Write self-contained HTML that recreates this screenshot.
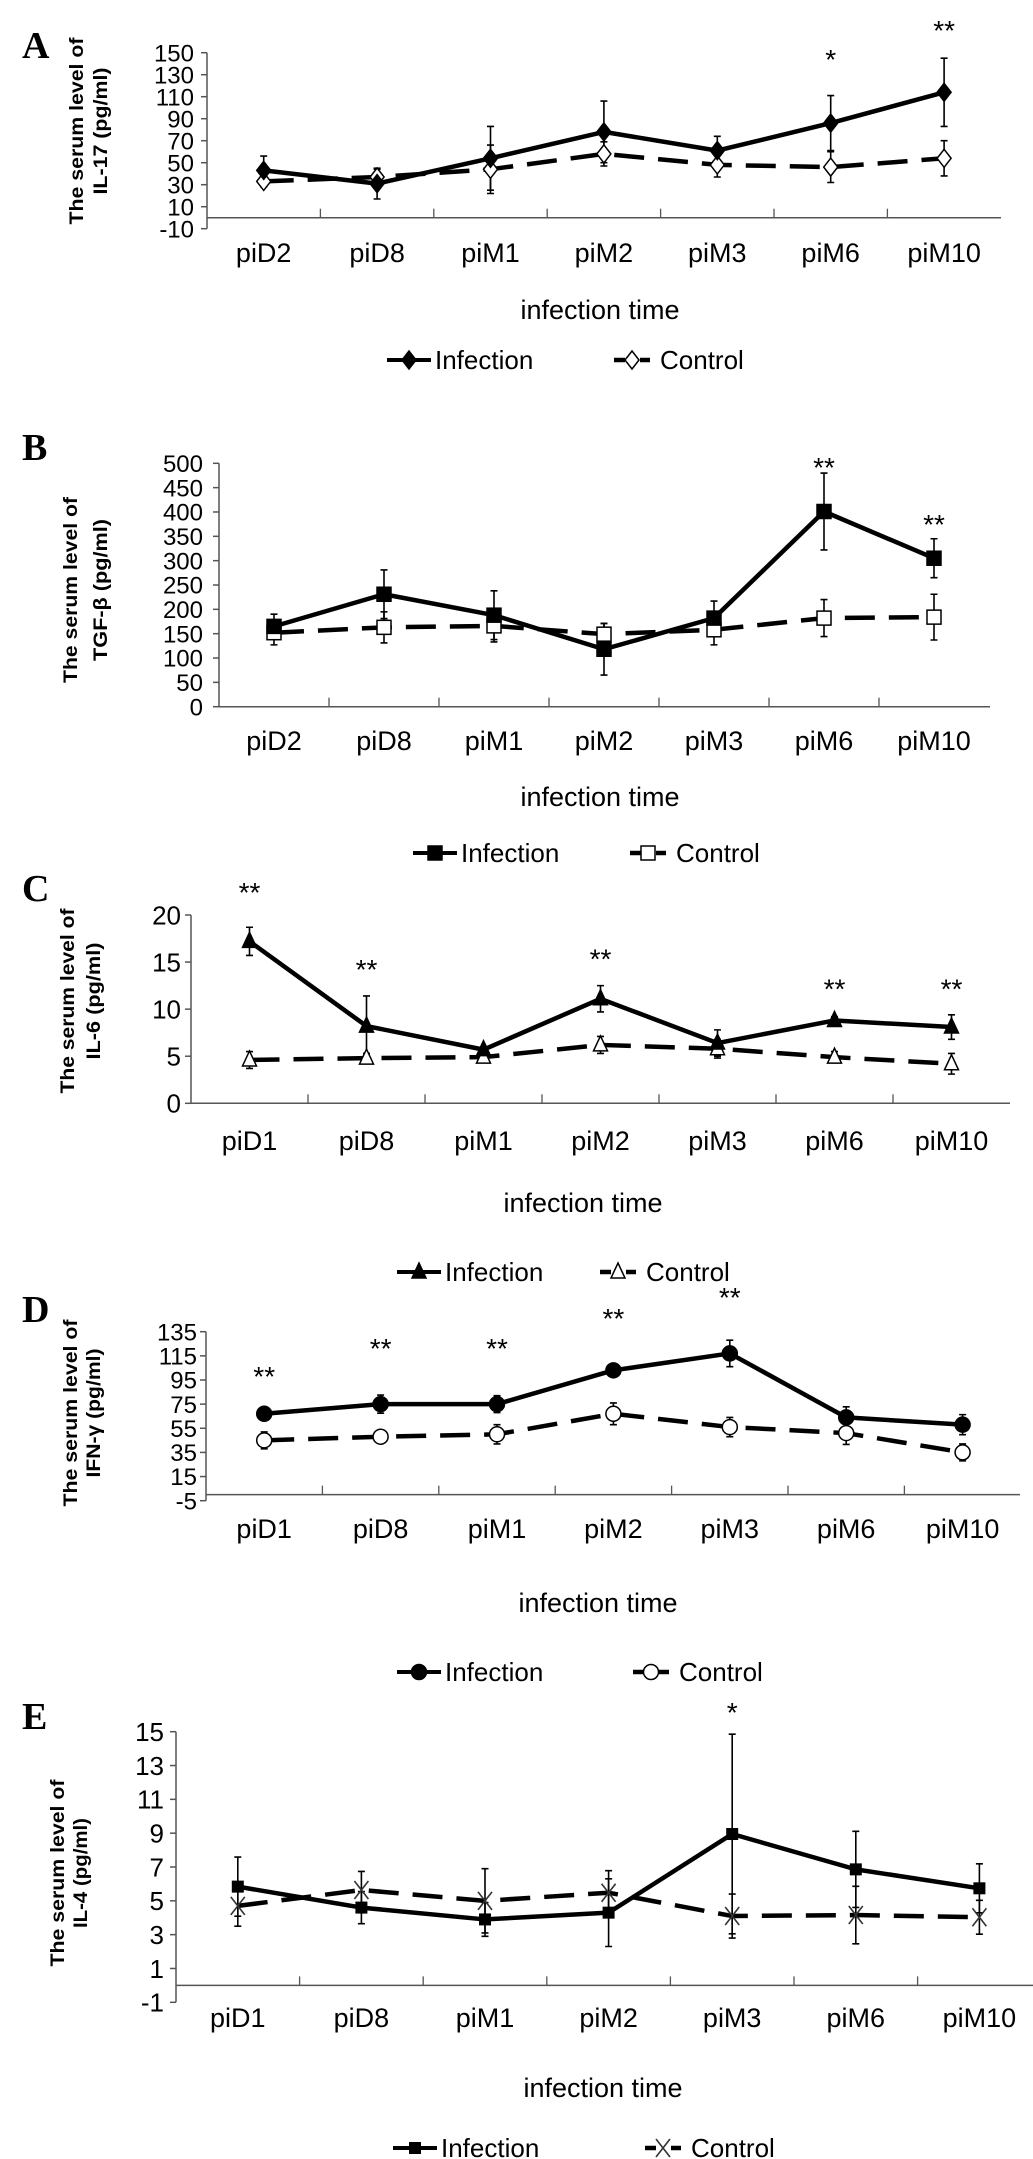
<!DOCTYPE html>
<html>
<head>
<meta charset="utf-8">
<style>
html,body{margin:0;padding:0;background:#fff;}
svg{display:block;font-family:"Liberation Sans",Arial,sans-serif;}
</style>
</head>
<body>
<svg id="fig" width="1033" height="2159" viewBox="0 0 1033 2159" xmlns="http://www.w3.org/2000/svg">
<rect x="0" y="0" width="1033" height="2159" fill="#fff"/>
</svg>
<script>
// ---------- DATA ----------
const catsA = ['piD2','piD8','piM1','piM2','piM3','piM6','piM10'];
const infA = [43,31,54,78,61,86,114];
const errInfA = [13,14,29,28,13,25,31];
const ctlA = [33,37,44,58,48,46,54];
const errCtlA = [5,7,22,11,11,14,16];
const ticksA = [-10,10,30,50,70,90,110,130,150];
const starCatA = [5,6];
const starValA = [149,175];
const starTxtA = ['*','**'];

const catsB = ['piD2','piD8','piM1','piM2','piM3','piM6','piM10'];
const infB = [165,231,188,118,182,401,305];
const errInfB = [25,50,50,53,35,79,40];
const ctlB = [152,163,166,149,158,182,184];
const errCtlB = [25,32,33,22,31,38,47];
const ticksB = [0,50,100,150,200,250,300,350,400,450,500];
const starCatB = [5,6];
const starValB = [503,386];
const starTxtB = ['**','**'];

const catsC = ['piD1','piD8','piM1','piM2','piM3','piM6','piM10'];
const infC = [17.2,8.2,5.7,11.1,6.4,8.8,8.1];
const errInfC = [1.5,3.2,0.3,1.4,1.4,0.4,1.3];
const ctlC = [4.6,4.8,4.9,6.2,5.8,4.9,4.2];
const errCtlC = [0.9,0.5,0.4,0.9,1.0,0.6,1.1];
const ticksC = [0,5,10,15,20];
const starCatC = [0,1,3,5,6];
const starValC = [23.0,14.8,15.9,12.7,12.7];
const starTxtC = ['**','**','**','**','**'];

const catsD = ['piD1','piD8','piM1','piM2','piM3','piM6','piM10'];
const infD = [67,75,75,103,117,64,58];
const errInfD = [3,7.5,7,4,11,8.8,8.3];
const ctlD = [45,48,50,67,56,51,35];
const errCtlD = [7,3,8,9,8,9.4,7];
const ticksD = [-5,15,35,55,75,95,115,135];
const starCatD = [0,1,2,3,4];
const starValD = [102.5,125.7,125.7,150.5,167.8];
const starTxtD = ['**','**','**','**','**'];

const catsE = ['piD1','piD8','piM1','piM2','piM3','piM6','piM10'];
const infE = [5.84,4.6,3.9,4.3,8.95,6.86,5.74];
const errInfE = [1.75,0.95,1.0,2.0,5.9,2.25,1.45];
const ctlE = [4.7,5.64,5.0,5.48,4.1,4.16,4.03];
const errCtlE = [1.2,1.1,1.9,1.3,1.3,1.7,1.0];
const ticksE = [-1,1,3,5,7,9,11,13,15];
const starCatE = [4];
const starValE = [16.46];
const starTxtE = ['*'];

// ---------- LAYOUT ----------
const panels = [
 {id:'a', letter:'A', letterY:58, cats:catsA, inf:infA, ei:errInfA, ctl:ctlA, ec:errCtlA, ticks:ticksA, sc:starCatA, sv:starValA, st:starTxtA,
  x0:207, step:113.4, axisEnd:1001, pxTop:52.7, pxBot:228.7, vTop:150, vBot:-10, tickX:194, tickFs:24,
  xLabY:262, titleX:600, titleY:319, legY:360, legInf:387, legCtl:614, marker:'diamond',
  yt1:'The serum level of', yt2:'IL-17 (pg/ml)', ytX1:83, ytX2:107, ytC:131, ytL1:187, ytL2:127},
 {id:'b', letter:'B', letterY:460, cats:catsB, inf:infB, ei:errInfB, ctl:ctlB, ec:errCtlB, ticks:ticksB, sc:starCatB, sv:starValB, st:starTxtB,
  x0:219, step:110, axisEnd:990, pxTop:463.3, pxBot:706.7, vTop:500, vBot:0, tickX:203, tickFs:24,
  xLabY:750, titleX:600, titleY:806, legY:853, legInf:413, legCtl:630, marker:'square',
  yt1:'The serum level of', yt2:'TGF-β (pg/ml)', ytX1:77, ytX2:107, ytC:590, ytL1:186, ytL2:142},
 {id:'c', letter:'C', letterY:901, cats:catsC, inf:infC, ei:errInfC, ctl:ctlC, ec:errCtlC, ticks:ticksC, sc:starCatC, sv:starValC, st:starTxtC,
  x0:191, step:117, axisEnd:1010, pxTop:915, pxBot:1103.3, vTop:20, vBot:0, tickX:181, tickFs:26,
  xLabY:1150, titleX:583, titleY:1212, legY:1272, legInf:397, legCtl:600, marker:'triangle',
  yt1:'The serum level of', yt2:'IL-6 (pg/ml)', ytX1:74, ytX2:100, ytC:1001, ytL1:185, ytL2:117},
 {id:'d', letter:'D', letterY:1322, cats:catsD, inf:infD, ei:errInfD, ctl:ctlD, ec:errCtlD, ticks:ticksD, sc:starCatD, sv:starValD, st:starTxtD,
  x0:206, step:116.4, axisEnd:1020, pxTop:1331.7, pxBot:1500.7, vTop:135, vBot:-5, tickX:197, tickFs:24,
  xLabY:1538, titleX:598, titleY:1612, legY:1672, legInf:397, legCtl:633, marker:'circle',
  yt1:'The serum level of', yt2:'IFN-γ (pg/ml)', ytX1:77, ytX2:100, ytC:1413, ytL1:187, ytL2:129},
 {id:'e', letter:'E', letterY:1729, cats:catsE, inf:infE, ei:errInfE, ctl:ctlE, ec:errCtlE, ticks:ticksE, sc:starCatE, sv:starValE, st:starTxtE,
  x0:176, step:123.6, axisEnd:1040, pxTop:1731.7, pxBot:2002.3, vTop:15, vBot:-1, tickX:164, tickFs:26,
  xLabY:2027, titleX:603, titleY:2097, legY:2148, legInf:393, legCtl:645, marker:'cross',
  yt1:'The serum level of', yt2:'IL-4 (pg/ml)', ytX1:64, ytX2:87, ytC:1873, ytL1:187, ytL2:110}
];

const NS = 'http://www.w3.org/2000/svg';
const svg = document.getElementById('fig');
function mk(tag, attrs, parent){
  const e = document.createElementNS(NS, tag);
  for (const k in attrs) e.setAttribute(k, attrs[k]);
  (parent||svg).appendChild(e);
  return e;
}

function drawMarker(g, kind, cx, cy, filled){
  const fill = filled ? '#000' : '#fff';
  let m;
  if (kind==='diamond') {
    m = mk('polygon',{points:`${cx},${cy-9} ${cx+7},${cy} ${cx},${cy+9} ${cx-7},${cy}`, fill:fill, stroke:'#000','stroke-width':1.5}, g);
  } else if (kind==='square') {
    m = mk('rect',{x:cx-7,y:cy-7,width:14,height:14, fill:fill, stroke:'#000','stroke-width':1.5}, g);
  } else if (kind==='triangle') {
    m = mk('polygon',{points:`${cx},${cy-9} ${cx+7},${cy+6} ${cx-7},${cy+6}`, fill:fill, stroke:'#000','stroke-width':1.5}, g);
  } else if (kind==='circle') {
    m = mk('circle',{cx:cx,cy:cy,r:7.5, fill:fill, stroke:'#000','stroke-width':1.5}, g);
  } else if (kind==='cross') {
    if (filled) {
      m = mk('rect',{x:cx-6,y:cy-6,width:12,height:12, fill:'#000'}, g);
    } else {
      m = mk('path',{d:`M${cx-7},${cy-9} L${cx+7},${cy+9} M${cx+7},${cy-9} L${cx-7},${cy+9}`, fill:'none', stroke:'#333','stroke-width':1.6}, g);
    }
  }
  return m;
}

panels.forEach(p => {
  const g = mk('g',{});
  
  
  const yS = v => p.pxBot + (v - p.vBot) * (p.pxTop - p.pxBot) / (p.vTop - p.vBot);
  const xS = i => p.x0 + (i + 0.5) * p.step;
  const zeroY = yS(Math.max(0, p.vBot));

  const L = mk('text',{x:22, y:p.letterY, 'font-family':'"Liberation Serif",serif','font-weight':'bold','font-size':38, fill:'#000'}, g);
  L.textContent = p.letter;
  
  

  const ya = mk('line',{x1:p.x0,y1:p.pxTop,x2:p.x0,y2:p.pxBot,stroke:'#555','stroke-width':1.5}, g);
  
  
  p.ticks.forEach(t => {
    const ty = yS(t);
    mk('line',{x1:p.x0-6,y1:ty,x2:p.x0,y2:ty,stroke:'#555','stroke-width':1.5}, g);
    const tl = mk('text',{x:p.tickX, y:ty + p.tickFs*0.36, 'text-anchor':'end','font-size':p.tickFs, fill:'#000'}, g);
    tl.textContent = String(t);
    
    
  });
  const xa = mk('line',{x1:p.x0,y1:zeroY,x2:p.axisEnd,y2:zeroY,stroke:'#555','stroke-width':1.5}, g);
  
  
  for (let i=1;i<p.cats.length;i++){
    const tx = p.x0 + i*p.step;
    mk('line',{x1:tx,y1:zeroY-9,x2:tx,y2:zeroY,stroke:'#555','stroke-width':1.3}, g);
  }
  p.cats.forEach((c,i) => {
    const xl = mk('text',{x:xS(i), y:p.xLabY, 'text-anchor':'middle','font-size':27, fill:'#000'}, g);
    xl.textContent = c;
    
    
  });
  const xt = mk('text',{x:p.titleX, y:p.titleY, 'text-anchor':'middle','font-size':27, fill:'#000'}, g);
  xt.textContent = 'infection time';
  
  

  const y1 = mk('text',{x:0,y:0,transform:`translate(${p.ytX1},${p.ytC}) rotate(-90)`,'text-anchor':'middle','font-size':19,'font-weight':'bold',fill:'#000',textLength:p.ytL1,lengthAdjust:'spacingAndGlyphs'}, g);
  y1.textContent = p.yt1;
  
  
  const y2 = mk('text',{x:0,y:0,transform:`translate(${p.ytX2},${p.ytC}) rotate(-90)`,'text-anchor':'middle','font-size':19,'font-weight':'bold',fill:'#000',textLength:p.ytL2,lengthAdjust:'spacingAndGlyphs'}, g);
  y2.textContent = p.yt2;
  
  

  function errBars(vals, errs, name){
    vals.forEach((v,i) => {
      const x = xS(i), t = yS(v + errs[i]), b = yS(v - errs[i]);
      const eg = mk('path',{d:`M${x},${t} L${x},${b} M${x-3.5},${t} L${x+3.5},${t} M${x-3.5},${b} L${x+3.5},${b}`, stroke:'#000','stroke-width':1.6, fill:'none'}, g);
      
      
    });
  }
  errBars(p.ctl, p.ec, 'control');
  errBars(p.inf, p.ei, 'infection');

  const ctlPts = p.ctl.map((v,i)=>`${xS(i)},${yS(v)}`).join(' ');
  const cl = mk('polyline',{points:ctlPts, fill:'none', stroke:'#000','stroke-width':4.5,'stroke-dasharray':'30,14'}, g);
  
  
  const infPts = p.inf.map((v,i)=>`${xS(i)},${yS(v)}`).join(' ');
  const il = mk('polyline',{points:infPts, fill:'none', stroke:'#000','stroke-width':4.5,'stroke-linejoin':'round'}, g);
  
  

  p.ctl.forEach((v,i) => {
    const m = drawMarker(g, p.marker, xS(i), yS(v), false);
    
    
  });
  p.inf.forEach((v,i) => {
    const m = drawMarker(g, p.marker, xS(i), yS(v), true);
    
    
  });

  p.sc.forEach((ci,k) => {
    const s = mk('text',{x:xS(ci), y:yS(p.sv[k]) + 15, 'text-anchor':'middle','font-size':28, fill:'#000'}, g);
    s.textContent = p.st[k];
    
    
  });

  const lg = mk('g',{}, g);
  
  
  const li = mk('g',{}, lg);
  
  
  mk('line',{x1:p.legInf,y1:p.legY,x2:p.legInf+44,y2:p.legY,stroke:'#000','stroke-width':4}, li);
  drawMarker(li, p.marker, p.legInf+22, p.legY, true);
  const lit = mk('text',{x:p.legInf+48, y:p.legY+9,'font-size':26, fill:'#000'}, li);
  lit.textContent = 'Infection';
  const lc = mk('g',{}, lg);
  
  
  mk('line',{x1:p.legCtl,y1:p.legY,x2:p.legCtl+11,y2:p.legY,stroke:'#000','stroke-width':4.5}, lc);
  mk('line',{x1:p.legCtl+26,y1:p.legY,x2:p.legCtl+36,y2:p.legY,stroke:'#000','stroke-width':4.5}, lc);
  drawMarker(lc, p.marker, p.legCtl+18, p.legY, false);
  const lct = mk('text',{x:p.legCtl+46, y:p.legY+9,'font-size':26, fill:'#000'}, lc);
  lct.textContent = 'Control';
});
</script>
</body>
</html>
